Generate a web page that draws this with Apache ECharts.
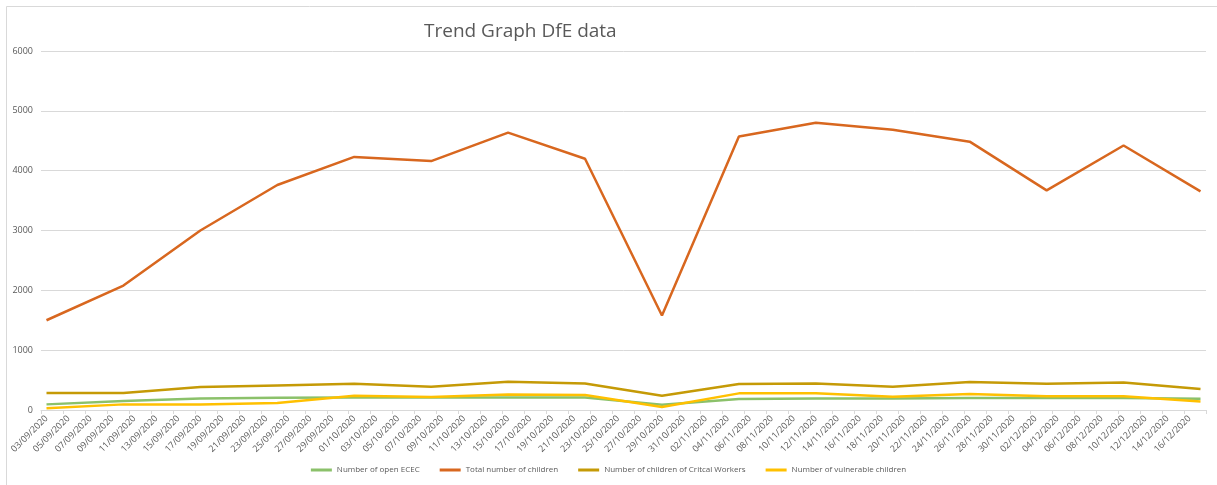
<!DOCTYPE html>
<html>
<head>
<meta charset="utf-8">
<script src="https://cdn.jsdelivr.net/npm/echarts@6/dist/echarts.min.js"></script>
<style>
html,body{margin:0;padding:0;background:#fff;}
#chart{width:1217px;height:485px;}
</style>
</head>
<body>
<div id="chart"></div>
<script>
// Axis range: every day from 03/09/2020 to 17/12/2020 (labels shown every 2 days)
const axisStart = [2020, 8, 3];   // 3 Sept 2020 (month is 0-based)
const axisDays = 106;

// Weekly observation dates
const weekDates = ['03/09/2020','10/09/2020','17/09/2020','24/09/2020','01/10/2020','08/10/2020',
  '15/10/2020','22/10/2020','29/10/2020','05/11/2020','12/11/2020','19/11/2020',
  '26/11/2020','03/12/2020','10/12/2020','17/12/2020'];

const openECEC      = [94, 150, 194, 206, 210, 210, 210, 210, 89, 183, 194, 194, 200, 200, 200, 186];
const totalChildren = [1500, 2080, 3000, 3760, 4230, 4160, 4635, 4200, 1580, 4570, 4800, 4685, 4485, 3670, 4420, 3655];
const criticalWorkers = [283, 283, 383, 411, 439, 389, 472, 444, 239, 433, 444, 389, 467, 439, 461, 350];
const vulnerable    = [28, 94, 94, 117, 239, 217, 261, 250, 50, 278, 278, 222, 267, 228, 230, 144];

const seriesNames = ['Number of open ECEC','Total number of children','Number of children of Critcal Workers','Number of vulnerable children'];
const seriesColors = ['#8BC16A','#D8671F','#C59A06','#FFC000'];

function pad(n){ return (n<10?'0':'')+n; }
const categories = [];
for (let i = 0; i < axisDays; i++) {
  const d = new Date(Date.UTC(axisStart[0], axisStart[1], axisStart[2] + i));
  categories.push(pad(d.getUTCDate()) + '/' + pad(d.getUTCMonth()+1) + '/' + d.getUTCFullYear());
}
function pairs(vals){ return weekDates.map((d,i)=>[d, vals[i]]); }
const allValues = [openECEC, totalChildren, criticalWorkers, vulnerable];

const chart = echarts.init(document.getElementById('chart'), null, {renderer:'canvas'});
const font = '"Open Sans", "DejaVu Sans", sans-serif';
chart.setOption({
  animation: false,
  backgroundColor: '#fff',
  graphic: [{
    type: 'rect', left: 4, top: 4, z: -1,
    shape: {width: 1230, height: 480},
    style: {fill: 'none', stroke: '#d9d9d9', lineWidth: 1}
  }],
  title: {
    text: 'Trend Graph DfE data',
    left: 419, top: 17,
    textStyle: {fontFamily: font, fontSize: 19, fontWeight: 'normal', color: '#595959'}
  },
  legend: {
    bottom: 6, left: 'center',
    itemGap: 20, itemWidth: 21, itemHeight: 3, icon: 'rect',
    textStyle: {fontFamily: font, fontSize: 8, color: '#595959'},
    data: seriesNames
  },
  grid: {left: 41, right: 11, top: 51, bottom: 75},
  xAxis: {
    type: 'category', data: categories, boundaryGap: true,
    axisLine: {lineStyle: {color: '#d9d9d9'}},
    axisTick: {show: true, interval: 1, length: 4, lineStyle: {color: '#d9d9d9'}},
    axisLabel: {interval: 1, rotate: 45, margin: 7, fontFamily: font, fontSize: 9, color: '#595959'},
    splitLine: {show: false}
  },
  yAxis: {
    type: 'value', min: 0, max: 6000, interval: 1000,
    axisLine: {show: false}, axisTick: {show: false},
    axisLabel: {margin: 8, fontFamily: font, fontSize: 9, color: '#595959', formatter: v => String(v)},
    splitLine: {lineStyle: {color: '#d9d9d9'}}
  },
  series: seriesNames.map((n, i) => ({
    name: n, type: 'line', data: pairs(allValues[i]),
    showSymbol: false, symbol: 'none',
    color: seriesColors[i],
    lineStyle: {width: 2.5, color: seriesColors[i]}
  }))
});
</script>
</body>
</html>
